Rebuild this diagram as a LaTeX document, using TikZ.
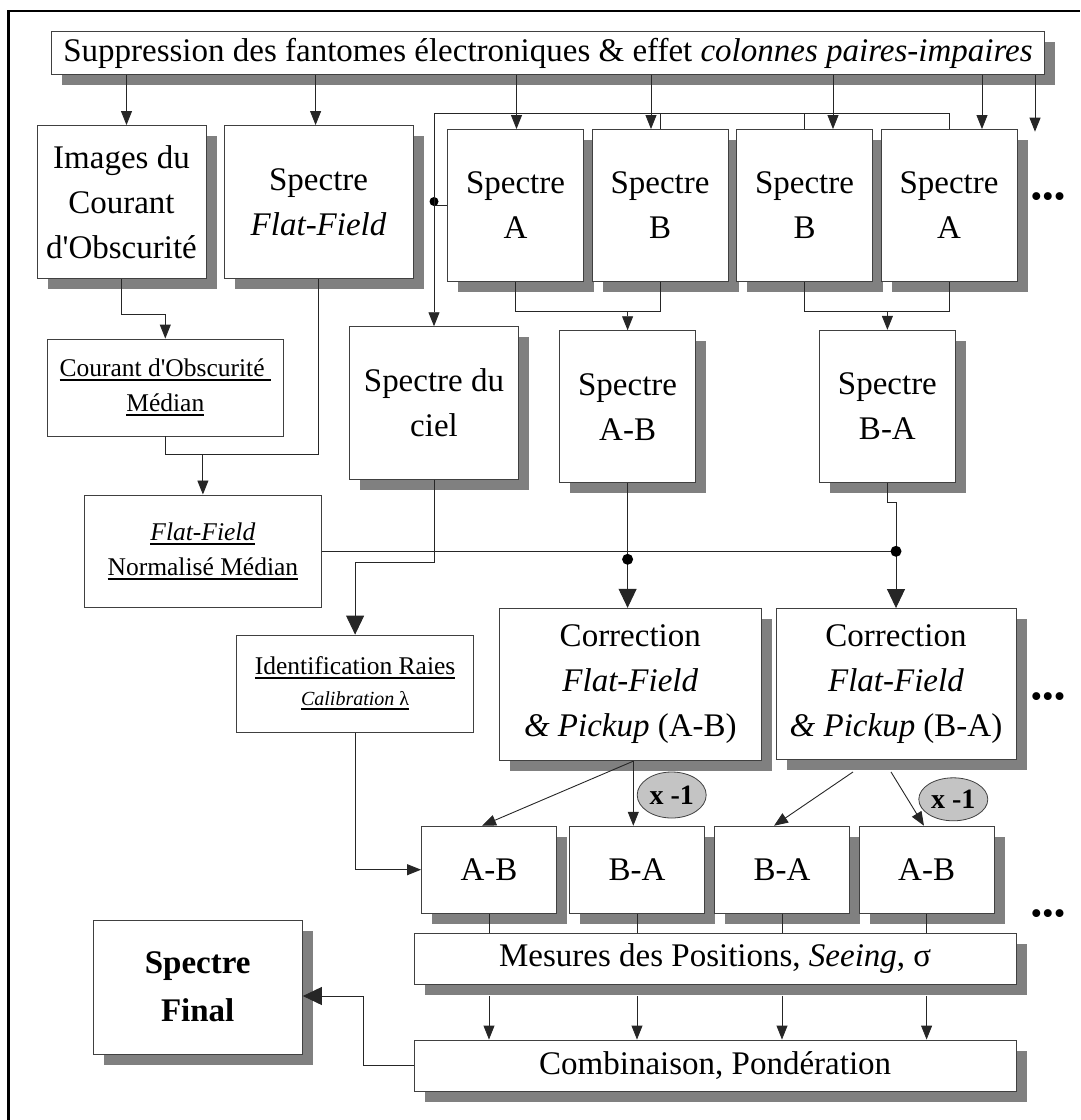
\documentclass[tikz,border=0pt]{standalone}
\usepackage{fontspec}
\setmainfont{Liberation Serif}[Ligatures=TeXOff]
\usetikzlibrary{arrows.meta,shadows,shapes.geometric,calc}
\definecolor{trait}{HTML}{404040}
\definecolor{ombre}{HTML}{808080}
\definecolor{bulle}{HTML}{C4C4C4}
\newsavebox\boitesoul
\newcommand{\souligne}[1]{\sbox\boitesoul{#1}\rlap{\rule[-4.5pt]{\wd\boitesoul}{2.2pt}}\usebox\boitesoul}

\begin{document}
\begin{tikzpicture}[x=1pt, y=-1pt,
    boite/.style={draw=trait, line width=0.9pt, fill=white, inner sep=0pt, align=center,
      font=\fontsize{33}{45}\selectfont},
    ombree/.style={boite, drop shadow={shadow xshift=10.5pt, shadow yshift=-10.5pt, fill=ombre, opacity=1}},
    petite/.style={boite, font=\fontsize{25.5}{35}\selectfont},
    fil/.style={draw=black!85, line width=0.9pt},
    fl/.style={fil, -{Triangle[length=14pt,width=11pt]}},
    gfl/.style={fil, -{Triangle[length=19pt,width=18pt]}},
    fois/.style={ellipse, draw=trait, fill=bulle, line width=0.8pt, inner sep=0pt,
      font=\bfseries\fontsize{28}{28}\selectfont},
    suite/.style={font=\fontsize{33}{33}\selectfont},
  ]
  \useasboundingbox (0,0) rectangle (1080,1120);
  \draw[line width=2.6pt] (8.6,1120) -- (8.6,11) -- (1080,11);

  \node[ombree, minimum width=993pt, minimum height=43pt] (haut) at (548,53.3)
    {Suppression des fantomes électroniques \& effet \textit{colonnes paires-impaires}};

  \node[ombree, minimum width=169pt, minimum height=153pt] (obsc) at (121.5,202) {Images du\\Courant\\d'Obscurité};
  \node[ombree, minimum width=189pt, minimum height=153pt] (flat) at (318.6,202) {Spectre\\\textit{Flat-Field}};
  \node[ombree, minimum width=136pt, minimum height=152pt] (sa1) at (515.5,205.5) {Spectre\\A};
  \node[ombree, minimum width=136pt, minimum height=152pt] (sb1) at (660,205.5) {Spectre\\B};
  \node[ombree, minimum width=136pt, minimum height=152pt] (sb2) at (804.5,205.5) {Spectre\\B};
  \node[ombree, minimum width=136pt, minimum height=152pt] (sa2) at (949,205.5) {Spectre\\A};
  \node[suite] (suite1) at (1048,200) {•••};

  \node[petite, minimum width=236pt, minimum height=97pt] (obscmed) at (165.3,387.5)
    {\souligne{Courant d'Obscurité\ }\\\souligne{Médian}};
  \node[ombree, minimum width=169pt, minimum height=152.6pt] (ciel) at (434,403) {Spectre du\\ciel};
  \node[ombree, minimum width=136pt, minimum height=152pt] (sab) at (627.6,406.7) {Spectre\\A-B};
  \node[ombree, minimum width=136pt, minimum height=152pt] (sba) at (887.4,406.3) {Spectre\\B-A};

  \node[petite, minimum width=237pt, minimum height=112.7pt] (ffnorm) at (202.9,551.3)
    {\souligne{\textit{Flat-Field}}\\\souligne{Normalisé Médian}};

  \node[boite, minimum width=237pt, minimum height=97.3pt, font=\fontsize{25.5}{31}\selectfont] (ident) at (355.1,683.7)
    {\souligne{Identification Raies}\\{\fontsize{20}{24}\selectfont\souligne{\textit{Calibration} λ}}};
  \node[ombree, minimum width=262.5pt, minimum height=152.4pt] (corrab) at (630.3,684.5)
    {Correction\\\textit{Flat-Field}\\\textit{\& Pickup} (A-B)};
  \node[ombree, minimum width=240pt, minimum height=151pt] (corrba) at (896,684)
    {Correction\\\textit{Flat-Field}\\\textit{\& Pickup} (B-A)};
  \node[suite] (suite2) at (1048,700) {•••};

  \node[fois, minimum width=69pt, minimum height=46pt] (fois1) at (671.7,795) {x -1};
  \node[fois, minimum width=69pt, minimum height=43pt] (fois2) at (953.3,799.3) {x -1};

  \node[ombree, minimum width=135pt, minimum height=87pt] (p1) at (489,869.7) {A-B};
  \node[ombree, minimum width=135pt, minimum height=87pt] (p2) at (637,869.7) {B-A};
  \node[ombree, minimum width=135pt, minimum height=87pt] (p3) at (782,869.7) {B-A};
  \node[ombree, minimum width=135pt, minimum height=87pt] (p4) at (926.6,869.7) {A-B};
  \node[suite] (suite3) at (1048,916.7) {•••};

  \node[ombree, minimum width=602pt, minimum height=51pt] (mes) at (715.2,958.8)
    {Mesures des Positions, \textit{Seeing}, σ};
  \node[ombree, minimum width=602pt, minimum height=51pt] (comb) at (715.2,1065.5)
    {Combinaison, Pondération};
  \node[ombree, minimum width=209.4pt, minimum height=134pt, font=\bfseries\fontsize{33}{48}\selectfont] (final) at (197.7,987)
    {Spectre\\Final};

  \coordinate (eobsc) at ($(obsc.north)+(5,0)$);
  \coordinate (eflat) at ($(flat.north)+(-3,0)$);
  \coordinate (ea1) at ($(sa1.north)+(1,0)$);
  \coordinate (eb1) at ($(sb1.north)+(-9,0)$);
  \coordinate (eb2) at ($(sb2.north)+(28.5,0)$);
  \coordinate (ea2) at ($(sa2.north)+(33,0)$);
  \coordinate (esuite) at (1035,131.7);
  \draw[fl] (haut.south -| eobsc) -- (eobsc);
  \draw[fl] (haut.south -| eflat) -- (eflat);
  \draw[fl] (haut.south -| ea1) -- (ea1);
  \draw[fl] (haut.south -| eb1) -- (eb1);
  \draw[fl] (haut.south -| eb2) -- (eb2);
  \draw[fl] (haut.south -| ea2) -- (ea2);
  \draw[fl] (haut.south -| esuite) -- (esuite);

  \coordinate (bciel) at (434,113.3);
  \draw[fil] (sa2.north) |- (bciel);
  \draw[fil] (sb1.north) -- (sb1.north |- bciel);
  \draw[fil] (sb2.north) -- (sb2.north |- bciel);
  \draw[fil] (sa1.west) -- (sa1.west -| bciel);
  \fill (sa1.west -| bciel) ++(0,-4) circle[radius=4.5pt];
  \draw[fl] (bciel) -- (ciel.north);

  \coordinate (bab) at (627.6,311.7);
  \draw[fil] (sa1.south) |- (sb1.south |- bab) -- (sb1.south);
  \draw[fl] (bab) -- (sab.north);
  \coordinate (bba) at (887.4,311.7);
  \draw[fil] (sb2.south) |- (sa2.south |- bba) -- (sa2.south);
  \draw[fl] (bba) -- (sba.north);

  \draw[fl] (obsc.south) -- ++(0,35) -| (obscmed.north);
  \coordinate (bff) at (202.9,454.3);
  \draw[fil] (obscmed.south) |- (flat.south |- bff) -- (flat.south);
  \draw[fl] (bff) -- (ffnorm.north);

  \draw[fil] (ffnorm.east) -- (ffnorm.east -| corrba.north);
  \draw[gfl] (sab.south) -- (sab.south |- corrab.north);
  \draw[gfl] (sba.south) -- ++(0,19.3) -| (corrba.north);
  \fill (ffnorm.east -| sab.south) ++(0,8) circle[radius=5.5pt];
  \fill (ffnorm.east -| corrba.north) circle[radius=5.5pt];

  \draw[gfl] (ciel.south) -- ++(0,83) -| (ident.north);
  \draw[fl] (ident.south) |- (p1.west);

  \coordinate (dab) at ($(corrab.south)+(3,0)$);
  \draw[fl] (dab) -- ($(p1.north)+(-7,0)$);
  \draw[fl] (dab) -- (dab |- p2.north);
  \draw[fl] ($(corrba.south)+(-43,12)$) -- ($(p3.north)+(-8,0)$);
  \draw[fl] ($(corrba.south)+(-5,12)$) -- ($(p4.north)+(-2.6,0)$);

  \draw[fil] (p1.south) -- (p1.south |- mes.north);
  \draw[fil] (p2.south) -- (p2.south |- mes.north);
  \draw[fil] (p3.south) -- (p3.south |- mes.north);
  \draw[fil] (p4.south) -- (p4.south |- mes.north);
  \draw[fl] ($(p1.south |- mes.south)+(0,11)$) -- (p1.south |- comb.north);
  \draw[fl] ($(p2.south |- mes.south)+(0,11)$) -- (p2.south |- comb.north);
  \draw[fl] ($(p3.south |- mes.south)+(0,11)$) -- (p3.south |- comb.north);
  \draw[fl] ($(p4.south |- mes.south)+(0,11)$) -- (p4.south |- comb.north);

  \draw[gfl] (comb.west) -- ++(-50,0) |- ($(final.east)+(0,9)$);
\end{tikzpicture}
\end{document}
